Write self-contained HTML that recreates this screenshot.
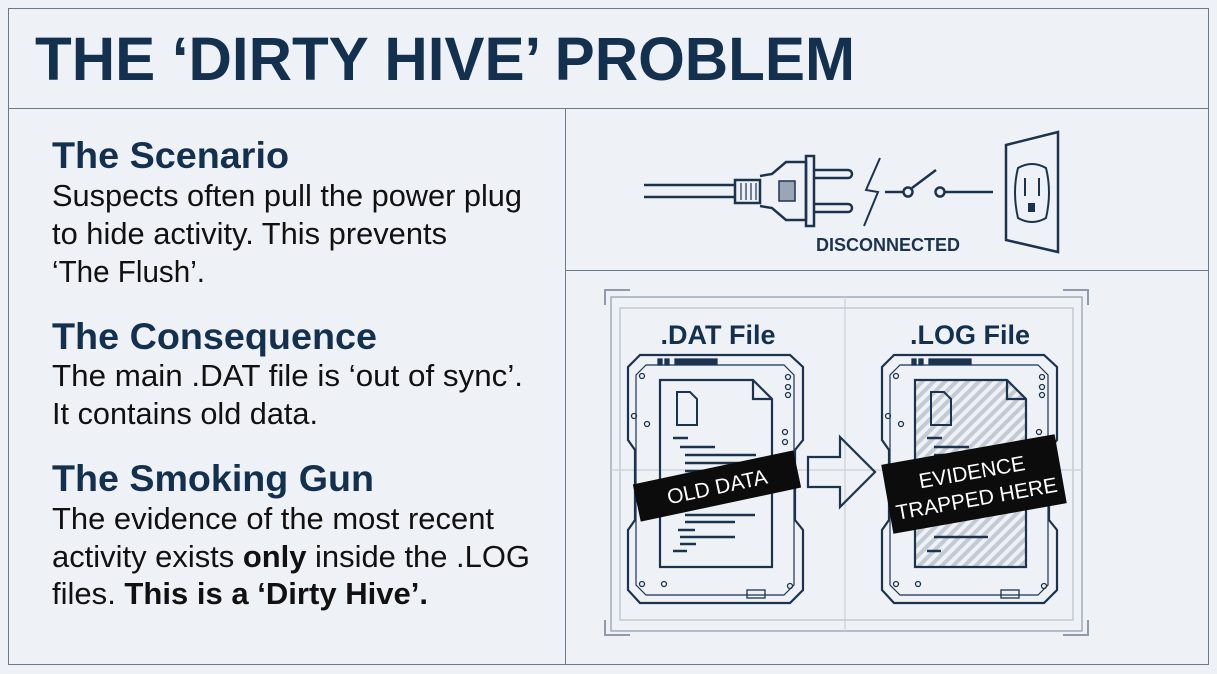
<!DOCTYPE html>
<html><head><meta charset="utf-8"><style>
body{margin:0;width:1217px;height:674px;background:#eef2f6;font-family:"Liberation Sans",sans-serif;overflow:hidden;position:relative}
.box{position:absolute;left:8px;top:8px;width:1199px;height:655px;border:1px solid #6b7a8c}
.hline{position:absolute;left:8px;top:108px;width:1200px;height:1px;background:#6b7a8c}
.vline{position:absolute;left:565px;top:108px;width:1px;height:556px;background:#6b7a8c}
.hline2{position:absolute;left:565px;top:270px;width:643px;height:1px;background:#6b7a8c}
</style></head><body>
<div class="box"></div><div class="hline"></div><div class="vline"></div><div class="hline2"></div>
<svg style="position:absolute;left:0;top:0" width="1217" height="674" viewBox="0 0 1217 674" font-family="Liberation Sans">
<text x="35" y="80" font-size="61" font-weight="bold" fill="#14304f" textLength="820" lengthAdjust="spacingAndGlyphs">THE ‘DIRTY HIVE’ PROBLEM</text>
<g font-size="37" font-weight="bold" fill="#14304f">
<text x="52" y="168" textLength="237" lengthAdjust="spacingAndGlyphs">The Scenario</text>
<text x="52" y="349" textLength="325" lengthAdjust="spacingAndGlyphs">The Consequence</text>
<text x="52" y="491" textLength="322" lengthAdjust="spacingAndGlyphs">The Smoking Gun</text>
</g>
<g font-size="31" fill="#111">
<text x="52" y="206" textLength="470" lengthAdjust="spacingAndGlyphs">Suspects often pull the power plug</text>
<text x="52" y="244" textLength="395" lengthAdjust="spacingAndGlyphs">to hide activity. This prevents</text>
<text x="52" y="282" textLength="153" lengthAdjust="spacingAndGlyphs">‘The Flush’.</text>
<text x="52" y="386" textLength="471" lengthAdjust="spacingAndGlyphs">The main .DAT file is ‘out of sync’.</text>
<text x="52" y="424" textLength="266" lengthAdjust="spacingAndGlyphs">It contains old data.</text>
<text x="52" y="529" textLength="442" lengthAdjust="spacingAndGlyphs">The evidence of the most recent</text>
<text x="52" y="567" textLength="478" lengthAdjust="spacingAndGlyphs">activity exists <tspan font-weight="bold">only</tspan> inside the .LOG</text>
<text x="52" y="604" textLength="376" lengthAdjust="spacingAndGlyphs">files. <tspan font-weight="bold">This is a ‘Dirty Hive’.</tspan></text>
</g>
<g fill="none" stroke="#1c3350" stroke-width="2.5">
<line x1="644" y1="185" x2="735" y2="185"/><line x1="644" y1="197" x2="735" y2="197"/>
<rect x="735" y="180" width="25" height="23"/>
<g stroke-width="1.2"><line x1="741" y1="183" x2="741" y2="200"/><line x1="746" y1="183" x2="746" y2="200"/><line x1="751" y1="183" x2="751" y2="200"/><line x1="756" y1="183" x2="756" y2="200"/></g>
<path d="M760 176 L772 174 L786 162 L806 162 L806 220 L786 220 L772 208 L760 206"/>
<rect x="806" y="156" width="8" height="70"/>
<rect x="779" y="181" width="16" height="20" fill="#9aa6b4" stroke-width="1.5"/>
<path d="M814 170 H848 a4 4 0 0 1 0 8 H814"/><path d="M814 204 H848 a4 4 0 0 1 0 8 H814"/>
<path d="M880 158 L866 190 L878 192 L864 226" stroke-width="2"/>
<line x1="885" y1="192" x2="903" y2="192"/><circle cx="908" cy="192" r="4.5"/>
<line x1="912" y1="188" x2="936" y2="170"/><circle cx="940" cy="192" r="4.5"/><line x1="945" y1="192" x2="993" y2="192"/>
<path d="M1006 145 L1058 132 L1058 252 L1006 240 Z"/>
<path d="M1018 168 Q1032 160 1046 168 Q1052 192 1046 218 Q1032 226 1018 218 Q1012 192 1018 168 Z" stroke-width="2"/>
<line x1="1025" y1="178" x2="1025" y2="196" stroke-width="2"/><line x1="1039" y1="178" x2="1039" y2="196" stroke-width="2"/>
<rect x="1028" y="203" width="7" height="9" fill="#1c3350" stroke="none"/>
</g>
<text x="816" y="251" font-size="18" font-weight="bold" fill="#1c3350">DISCONNECTED</text>
<!-- frame -->
<g fill="none" stroke="#8f9bab" stroke-width="1.2">
<rect x="611" y="297" width="471" height="334"/>
<rect x="620" y="308" width="453" height="312" stroke="#b8c1cc"/>
<path d="M605 305 V290 H630 M1063 290 H1088 V305 M605 620 V635 H630 M1063 635 H1088 V620" stroke-width="2"/>
<line x1="845" y1="297" x2="845" y2="631" stroke="#c8d0d9"/>
<line x1="611" y1="470" x2="1082" y2="470" stroke="#c8d0d9"/>
</g>
<g fill="none" stroke="#1c3350" stroke-width="2.2">
<path d="M640 355 H790 L803 367 V440 L795 450 V520 L803 530 V590 L790 603 H640 L628 590 V530 L635 520 V450 L628 440 V367 Z"/>
<path d="M646 365 H784 L794 375 V585 L784 595 H646 L636 585 V375 Z" stroke-width="1.2"/>
<path d="M660 380 H753 L772 399 V567 H660 Z"/>
<path d="M753 380 V399 H772"/>
<path d="M894 355 H1044 L1057 367 V440 L1049 450 V520 L1057 530 V590 L1044 603 H894 L882 590 V530 L889 520 V450 L882 440 V367 Z"/>
<path d="M900 365 H1038 L1048 375 V585 L1038 595 H900 L890 585 V375 Z" stroke-width="1.2"/>
<pattern id="st" width="8" height="8" patternUnits="userSpaceOnUse" patternTransform="rotate(45)"><rect width="4" height="8" fill="#c3cad4" stroke="none"/></pattern>
<path d="M915 380 H1007 L1026 399 V567 H915 Z" fill="url(#st)"/>
<path d="M1007 380 V399 H1026"/>
<path d="M808 457 H840 V437 L875 472 L840 507 V487 H808 Z"/>
<g stroke-width="2.5">
<line x1="673" y1="438" x2="688" y2="438"/><line x1="680" y1="447" x2="715" y2="447"/><line x1="685" y1="455" x2="756" y2="455"/><line x1="685" y1="463" x2="740" y2="463"/><line x1="685" y1="471" x2="730" y2="471"/>
<line x1="685" y1="515" x2="755" y2="515"/><line x1="685" y1="522" x2="735" y2="522"/><line x1="678" y1="530" x2="695" y2="530"/><line x1="680" y1="537" x2="735" y2="537"/><line x1="680" y1="544" x2="696" y2="544"/><line x1="673" y1="551" x2="687" y2="551"/>
<line x1="927" y1="438" x2="942" y2="438"/><line x1="934" y1="447" x2="969" y2="447"/><line x1="934" y1="455" x2="985" y2="455"/><line x1="934" y1="537" x2="988" y2="537"/><line x1="927" y1="551" x2="941" y2="551"/></g>
<path d="M677 392 H690 L697 399 V425 H677 Z" stroke-width="2"/><path d="M931 392 H944 L951 399 V425 H931 Z" stroke-width="2"/>
<g stroke-width="1.3">
<rect x="658" y="359" width="4" height="6" fill="#1c3350"/><rect x="665" y="359" width="4" height="6" fill="#1c3350"/><rect x="675" y="359" width="42" height="5" fill="#1c3350"/>
<rect x="912" y="359" width="4" height="6" fill="#1c3350"/><rect x="919" y="359" width="4" height="6" fill="#1c3350"/><rect x="929" y="359" width="42" height="5" fill="#1c3350"/>
<circle cx="642" cy="376" r="2.5"/><circle cx="634" cy="416" r="2.5"/><circle cx="647" cy="424" r="2.5"/><circle cx="788" cy="377" r="2.5"/><circle cx="788" cy="387" r="2.5"/><circle cx="788" cy="395" r="2.5"/><circle cx="785" cy="432" r="2.5"/><circle cx="785" cy="442" r="2.5"/><circle cx="642" cy="584" r="2.5"/><circle cx="664" cy="584" r="2.5"/><circle cx="790" cy="586" r="2.5"/>
<circle cx="896" cy="376" r="2.5"/><circle cx="888" cy="416" r="2.5"/><circle cx="901" cy="424" r="2.5"/><circle cx="1042" cy="377" r="2.5"/><circle cx="1042" cy="387" r="2.5"/><circle cx="1042" cy="395" r="2.5"/><circle cx="1039" cy="432" r="2.5"/><circle cx="896" cy="584" r="2.5"/><circle cx="918" cy="584" r="2.5"/><circle cx="1044" cy="586" r="2.5"/>
<rect x="747" y="590" width="18" height="8"/><rect x="1001" y="590" width="18" height="8"/>
</g>
</g>
<text x="718" y="344" text-anchor="middle" font-size="27" font-weight="bold" fill="#14304f">.DAT File</text>
<text x="970" y="344" text-anchor="middle" font-size="27" font-weight="bold" fill="#14304f">.LOG File</text>
<g transform="rotate(-12 717 486)"><rect x="635" y="467" width="164" height="38" fill="#0c0c0c"/>
<text x="717" y="494" text-anchor="middle" font-size="21" fill="#fff">OLD DATA</text></g>
<g transform="rotate(-10 974 484)"><rect x="886" y="449" width="176" height="70" fill="#0c0c0c"/>
<text x="974" y="479" text-anchor="middle" font-size="21" fill="#fff">EVIDENCE</text>
<text x="974" y="506" text-anchor="middle" font-size="21" fill="#fff">TRAPPED HERE</text></g>
</svg>
</body></html>
